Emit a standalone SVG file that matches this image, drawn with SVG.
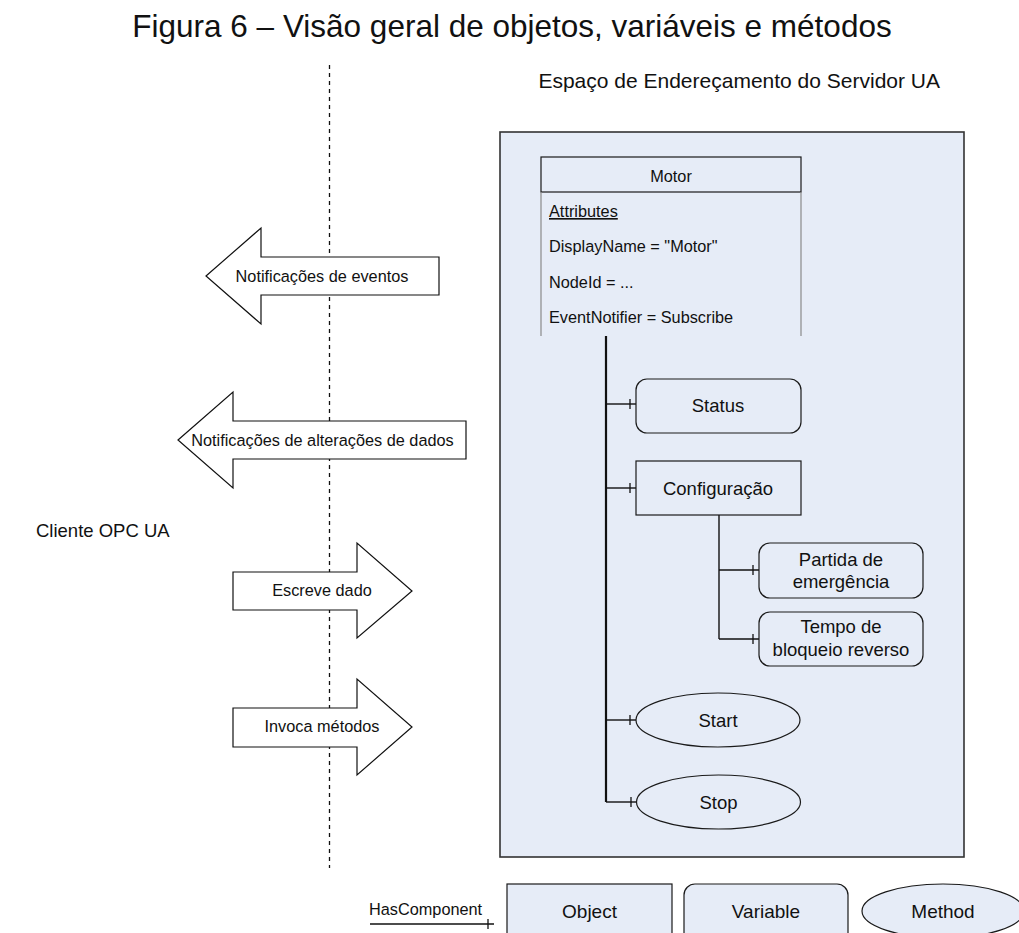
<svg xmlns="http://www.w3.org/2000/svg" width="1019" height="933" viewBox="0 0 1019 933">
  <defs>
    <style>
      text { font-family: "Liberation Sans", Arial, sans-serif; fill: #111; }
      .t16 { font-size: 16.3px; }
      .lbl { font-size: 18.5px; }
      .leg { font-size: 19px; }
      .mid { text-anchor: middle; }
      .node { fill: #e6ecf7; stroke: #1a1a1a; stroke-width: 1.2; }
      .arrow { fill: #ffffff; stroke: #111; stroke-width: 1.2; }
      .edge { fill: none; stroke: #111; stroke-width: 1.4; }
    </style>
    <!-- short cross bar drawn just before the end of a HasComponent reference -->
    <marker id="tick" markerUnits="userSpaceOnUse" viewBox="-2 -6 10 12" refX="6" refY="0" markerWidth="10" markerHeight="12" orient="auto" overflow="visible">
      <path d="M0,-5 V5" stroke="#111" stroke-width="1.3" fill="none"/>
    </marker>
  </defs>

  <rect width="1019" height="933" fill="#ffffff"/>

  <text x="512" y="37" class="mid" font-size="31.5">Figura 6 – Visão geral de objetos, variáveis e métodos</text>

  <!-- client / server boundary -->
  <line x1="329.5" y1="65" x2="329.5" y2="868" stroke="#111" stroke-width="1.3" stroke-dasharray="4 4"/>

  <text x="36" y="537" font-size="18.5">Cliente OPC UA</text>
  <text x="940" y="88" font-size="21" text-anchor="end">Espaço de Endereçamento do Servidor UA</text>

  <!-- server address space -->
  <g id="address-space">
    <rect x="500" y="132" width="464" height="725" fill="#e6ecf7" stroke="#333" stroke-width="1.6"/>
  </g>

  <!-- service arrows -->
  <g id="arrow-event-notifications">
    <polygon class="arrow" points="206,276 261,228 261,257 439,257 439,295 261,295 261,324"/>
    <text x="322" y="282" class="t16 mid">Notificações de eventos</text>
  </g>
  <g id="arrow-data-notifications">
    <polygon class="arrow" points="178,440 233,392 233,421 466,421 466,459 233,459 233,488"/>
    <text x="322.5" y="446" class="t16 mid">Notificações de alterações de dados</text>
  </g>
  <g id="arrow-write">
    <polygon class="arrow" points="233,572 357,572 357,543 412,591 357,638 357,610 233,610"/>
    <text x="322" y="596" class="t16 mid">Escreve dado</text>
  </g>
  <g id="arrow-call">
    <polygon class="arrow" points="233,708 357,708 357,679 412,727 357,775 357,747 233,747"/>
    <text x="322" y="732" class="t16 mid">Invoca métodos</text>
  </g>

  <!-- HasComponent references -->
  <g id="connectors">
    <path d="M606,336 V802" fill="none" stroke="#111" stroke-width="2.2"/>
    <path class="edge" d="M606,404 H636" marker-end="url(#tick)"/>
    <path class="edge" d="M606,488 H636" marker-end="url(#tick)"/>
    <path class="edge" d="M606,720 H636" marker-end="url(#tick)"/>
    <path class="edge" d="M606,802 H637" marker-end="url(#tick)"/>
    <path class="edge" d="M719,515 V639"/>
    <path class="edge" d="M719,570 H759" marker-end="url(#tick)"/>
    <path class="edge" d="M719,639 H759" marker-end="url(#tick)"/>
    <path class="edge" d="M370,924 H494" marker-end="url(#tick)"/>
  </g>

  <!-- object node with its attribute list -->
  <g id="node-motor">
    <rect class="node" x="541" y="157" width="260" height="35"/>
    <path d="M541,192 V336 M801,192 V336" fill="none" stroke="#8a8a8a" stroke-width="1.2"/>
    <text x="671" y="182" class="t16 mid">Motor</text>
    <text x="549" y="217" class="t16" text-decoration="underline">Attributes</text>
    <text x="549" y="252" class="t16">DisplayName = "Motor"</text>
    <text x="549" y="288" class="t16">NodeId = ...</text>
    <text x="549" y="323" class="t16">EventNotifier = Subscribe</text>
  </g>

  <g id="node-status">
    <rect class="node" x="636" y="379" width="165" height="54" rx="11"/>
    <text x="718" y="412" class="lbl mid">Status</text>
  </g>

  <g id="node-configuracao">
    <rect class="node" x="636" y="461" width="165" height="54"/>
    <text x="718" y="495" class="lbl mid">Configuração</text>
  </g>

  <g id="node-partida">
    <rect class="node" x="759" y="543" width="164" height="55" rx="11"/>
    <text x="841" y="566" class="lbl mid">Partida de</text>
    <text x="841" y="588" class="lbl mid">emergência</text>
  </g>

  <g id="node-tempo">
    <rect class="node" x="759" y="612" width="164" height="54" rx="11"/>
    <text x="841" y="633" class="lbl mid">Tempo de</text>
    <text x="841" y="656" class="lbl mid">bloqueio reverso</text>
  </g>

  <g id="node-start">
    <ellipse class="node" cx="718" cy="720" rx="82" ry="27"/>
    <text x="718" y="727" class="lbl mid">Start</text>
  </g>

  <g id="node-stop">
    <ellipse class="node" cx="718.5" cy="802" rx="82" ry="27"/>
    <text x="718.5" y="809" class="lbl mid">Stop</text>
  </g>

  <!-- legend -->
  <g id="legend-hascomponent">
    <text x="369" y="915" class="t16">HasComponent</text>
  </g>
  <g id="legend-object">
    <rect class="node" x="507" y="884" width="165" height="60"/>
    <text x="589.5" y="918" class="leg mid">Object</text>
  </g>
  <g id="legend-variable">
    <rect class="node" x="684" y="884" width="164" height="60" rx="11"/>
    <text x="766" y="918" class="leg mid">Variable</text>
  </g>
  <g id="legend-method">
    <ellipse class="node" cx="943" cy="911" rx="81" ry="27"/>
    <text x="943" y="918" class="leg mid">Method</text>
  </g>
</svg>
